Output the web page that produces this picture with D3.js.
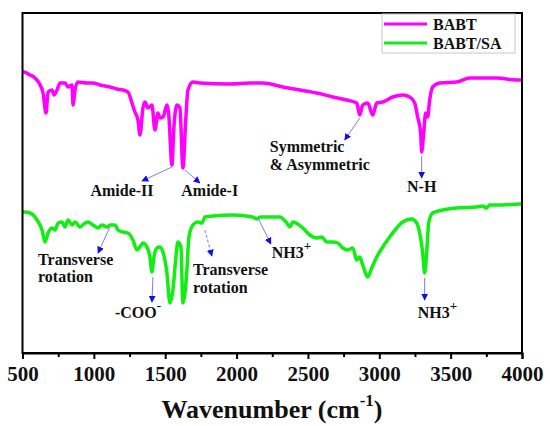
<!DOCTYPE html>
<html>
<head>
<meta charset="utf-8">
<script src="https://cdn.jsdelivr.net/npm/d3@7"></script>
<style>
  body { margin: 0; background: #fff; }
  text { font-family: "Times New Roman", "Liberation Serif", serif; font-weight: bold; fill: #111; }
</style>
</head>
<body>
<script>
// wavenumber (cm-1) and transmittance (arbitrary units, offset traces)
var babtWn = [500, 510, 553, 588, 616, 644, 665, 679, 707, 721, 742, 763, 798, 819, 847, 854, 868, 889, 952, 994,
  1043, 1113, 1162, 1204, 1239, 1267, 1288, 1309, 1323, 1344, 1358, 1379, 1407, 1428, 1449, 1463, 1484, 1512, 1526, 1547,
  1561, 1582, 1603, 1624, 1645, 1659, 1694, 1743, 1953, 2093, 2184, 2324, 2443, 2562, 2674, 2772, 2842, 2863, 2884, 2919,
  2954, 2982, 3024, 3094, 3164, 3213, 3248, 3269, 3290, 3297, 3311, 3325, 3339, 3353, 3374, 3423, 3542, 3633, 3724, 3822,
  3962, 3997];
var babtT = [280, 280, 277, 274, 269, 259, 239, 260, 262, 257, 262, 269, 269, 265, 267, 247, 262, 270, 269, 269,
  267, 265, 263, 262, 260, 249, 240, 232, 217, 244, 250, 244, 247, 222, 239, 234, 235, 247, 235, 187,
  225, 247, 244, 184, 235, 262, 270, 269, 268, 269, 269, 265, 262, 259, 255, 252, 249, 237, 247, 249,
  237, 249, 250, 255, 257, 255, 249, 235, 219, 200, 219, 239, 235, 252, 265, 269, 270, 274, 274, 274,
  272, 272];

var saWn = [500, 510, 553, 602, 637, 658, 679, 707, 728, 749, 777, 798, 819, 847, 868, 903, 938, 959, 994, 1029,
  1057, 1092, 1113, 1148, 1169, 1204, 1239, 1274, 1302, 1323, 1344, 1372, 1393, 1407, 1421, 1442, 1463, 1484, 1512, 1533,
  1554, 1575, 1589, 1610, 1624, 1652, 1666, 1694, 1729, 1757, 1778, 1834, 1974, 2114, 2142, 2163, 2303, 2352, 2373, 2394,
  2464, 2513, 2562, 2597, 2632, 2674, 2709, 2744, 2779, 2814, 2842, 2863, 2884, 2919, 2947, 2982, 3024, 3073, 3122, 3164,
  3227, 3262, 3283, 3304, 3318, 3332, 3346, 3374, 3444, 3542, 3682, 3724, 3752, 3773, 3864, 3983, 3997];
var saT = [140, 140, 139, 132, 122, 110, 119, 124, 122, 129, 130, 125, 132, 127, 130, 125, 129, 130, 127, 124,
  127, 125, 127, 127, 122, 120, 119, 112, 102, 105, 109, 105, 95, 80, 95, 104, 105, 100, 79, 49,
  62, 95, 110, 105, 49, 82, 115, 127, 130, 129, 135, 136, 137, 135, 133, 135, 135, 129, 125, 130,
  124, 117, 114, 115, 110, 110, 109, 104, 102, 104, 92, 95, 87, 75, 84, 95, 105, 115, 124, 130,
  133, 129, 119, 99, 79, 99, 129, 139, 142, 144, 145, 146, 144, 147, 147, 148, 148];

var seriesNames = ['BABT', 'BABT/SA'];
var seriesColors = ['#ff00ff', '#11ee11'];
var xTicks = [500, 1000, 1500, 2000, 2500, 3000, 3500, 4000];

// peak labels: arrow from (x1,y1) to (x2,y2), text lines anchored at (tx, ty...)
var notes = [
  {x1: 1547, y1: 185, x2: 1337, y2: 171, tx: 1197, ty: [156], anchor: 'middle', lines: ['Amide-II']},
  {x1: 1638, y1: 182, x2: 1743, y2: 169, tx: 1812, ty: [156], anchor: 'middle', lines: ['Amide-I']},
  {x1: 2863, y1: 234, x2: 2758, y2: 212, tx: 2233, ty: [200, 182], anchor: 'start', lines: ['Symmetric', '& Asymmetric']},
  {x1: 3297, y1: 196, x2: 3297, y2: 174, tx: 3297, ty: [160], anchor: 'middle', lines: ['N-H']},
  {x1: 1113, y1: 125, x2: 1029, y2: 99, tx: 609, ty: [87, 70], anchor: 'start', lines: ['Transverse', 'rotation']},
  {x1: 1414, y1: 75, x2: 1407, y2: 50, tx: 1148, ty: [34], anchor: 'start', lines: ['-COO'], sup: '-'},
  {x1: 1778, y1: 122, x2: 1827, y2: 96, tx: 1694, ty: [77, 59], anchor: 'start', lines: ['Transverse', 'rotation'], dash: true},
  {x1: 2150, y1: 134, x2: 2240, y2: 108, tx: 2247, ty: [94], anchor: 'start', lines: ['NH3'], sup: '+'},
  {x1: 3318, y1: 74, x2: 3318, y2: 52, tx: 3269, ty: [34], anchor: 'start', lines: ['NH3'], sup: '+'}
];

var W = 550, H = 426;
var mLeft = 22.5, mRight = 522, mTop = 13, mBottom = 353;

var svg = d3.select('body').append('svg')
  .attr('width', W)
  .attr('height', H);

var xScale = d3.scaleLinear().domain([500, 4000]).range([mLeft, mRight]);
var yScale = d3.scaleLinear().domain([-1, 339]).range([mBottom, mTop]);

svg.append('defs').append('marker')
  .attr('id', 'head')
  .attr('viewBox', '0 0 10 10')
  .attr('refX', 9).attr('refY', 5)
  .attr('markerWidth', 7).attr('markerHeight', 7)
  .attr('markerUnits', 'userSpaceOnUse')
  .attr('orient', 'auto')
  .append('path')
  .attr('d', 'M0,0 L10,5 L0,10 z')
  .attr('fill', '#1010e0');

// spectra
var line = d3.line()
  .x(function(d){ return xScale(d[0]); })
  .y(function(d){ return yScale(d[1]); })
  .curve(d3.curveMonotoneX);

var series = [d3.zip(babtWn, babtT), d3.zip(saWn, saT)];
series.forEach(function(s, i){
  svg.append('path')
    .datum(s)
    .attr('d', line)
    .attr('fill', 'none')
    .attr('stroke', seriesColors[i])
    .attr('stroke-width', 3.5)
    .attr('stroke-linejoin', 'round');
});

// frame
svg.append('rect')
  .attr('x', mLeft).attr('y', mTop)
  .attr('width', mRight - mLeft).attr('height', mBottom - mTop)
  .attr('fill', 'none')
  .attr('stroke', '#000')
  .attr('stroke-width', 2);

// x axis
var xAxis = d3.axisBottom(xScale).tickValues(xTicks).tickSize(6).tickFormat(d3.format('d'));
var gx = svg.append('g')
  .attr('transform', 'translate(0,' + mBottom + ')')
  .call(xAxis);
gx.select('.domain').attr('stroke-width', 2);
gx.selectAll('.tick line').attr('stroke-width', 2);
gx.selectAll('.tick text')
  .attr('dy', null).attr('y', 28)
  .style('font-size', '21px')
  .style('font-family', '"Times New Roman", "Liberation Serif", serif')
  .style('font-weight', 'bold')
  .attr('fill', '#111');

var minor = d3.range(750, 4000, 500);
svg.append('g')
  .attr('transform', 'translate(0,' + mBottom + ')')
  .call(d3.axisBottom(xScale).tickValues(minor).tickSize(4).tickFormat(''))
  .call(function(g){ g.select('.domain').remove(); g.selectAll('line').attr('stroke-width', 2); });

// axis title
var title = svg.append('text')
  .attr('x', 272).attr('y', 418)
  .attr('text-anchor', 'middle')
  .style('font-size', '26px');
title.append('tspan').text('Wavenumber (cm');
title.append('tspan').attr('dy', -12).style('font-size', '17px').text('-1');
title.append('tspan').attr('dy', 12).text(')');

// annotations
notes.forEach(function(n){
  svg.append('line')
    .attr('x1', xScale(n.x1)).attr('y1', yScale(n.y1))
    .attr('x2', xScale(n.x2)).attr('y2', yScale(n.y2))
    .attr('stroke', '#7b7bf5')
    .attr('stroke-width', 1)
    .attr('stroke-dasharray', n.dash ? '3,2' : null)
    .attr('marker-end', 'url(#head)');
  n.lines.forEach(function(t, j){
    var txt = svg.append('text')
      .attr('x', xScale(n.tx)).attr('y', yScale(n.ty[j]))
      .attr('text-anchor', n.anchor)
      .style('font-size', '16px')
      .text(t);
    if (n.sup) {
      txt.append('tspan').attr('dy', -8).style('font-size', '13px').text(n.sup);
    }
  });
});

// legend
var lg = svg.append('g').attr('transform', 'translate(382,14)');
lg.append('rect')
  .attr('width', 133).attr('height', 39)
  .attr('fill', '#fff')
  .attr('stroke', '#c8c8c8')
  .attr('stroke-width', 1);
seriesNames.forEach(function(name, i){
  var yy = 10 + i * 19;
  lg.append('line')
    .attr('x1', 2).attr('x2', 45)
    .attr('y1', yy).attr('y2', yy)
    .attr('stroke', seriesColors[i])
    .attr('stroke-width', 3);
  lg.append('text')
    .attr('x', 51).attr('y', yy + 5.5)
    .style('font-size', '16px')
    .text(name);
});
</script>
</body>
</html>
